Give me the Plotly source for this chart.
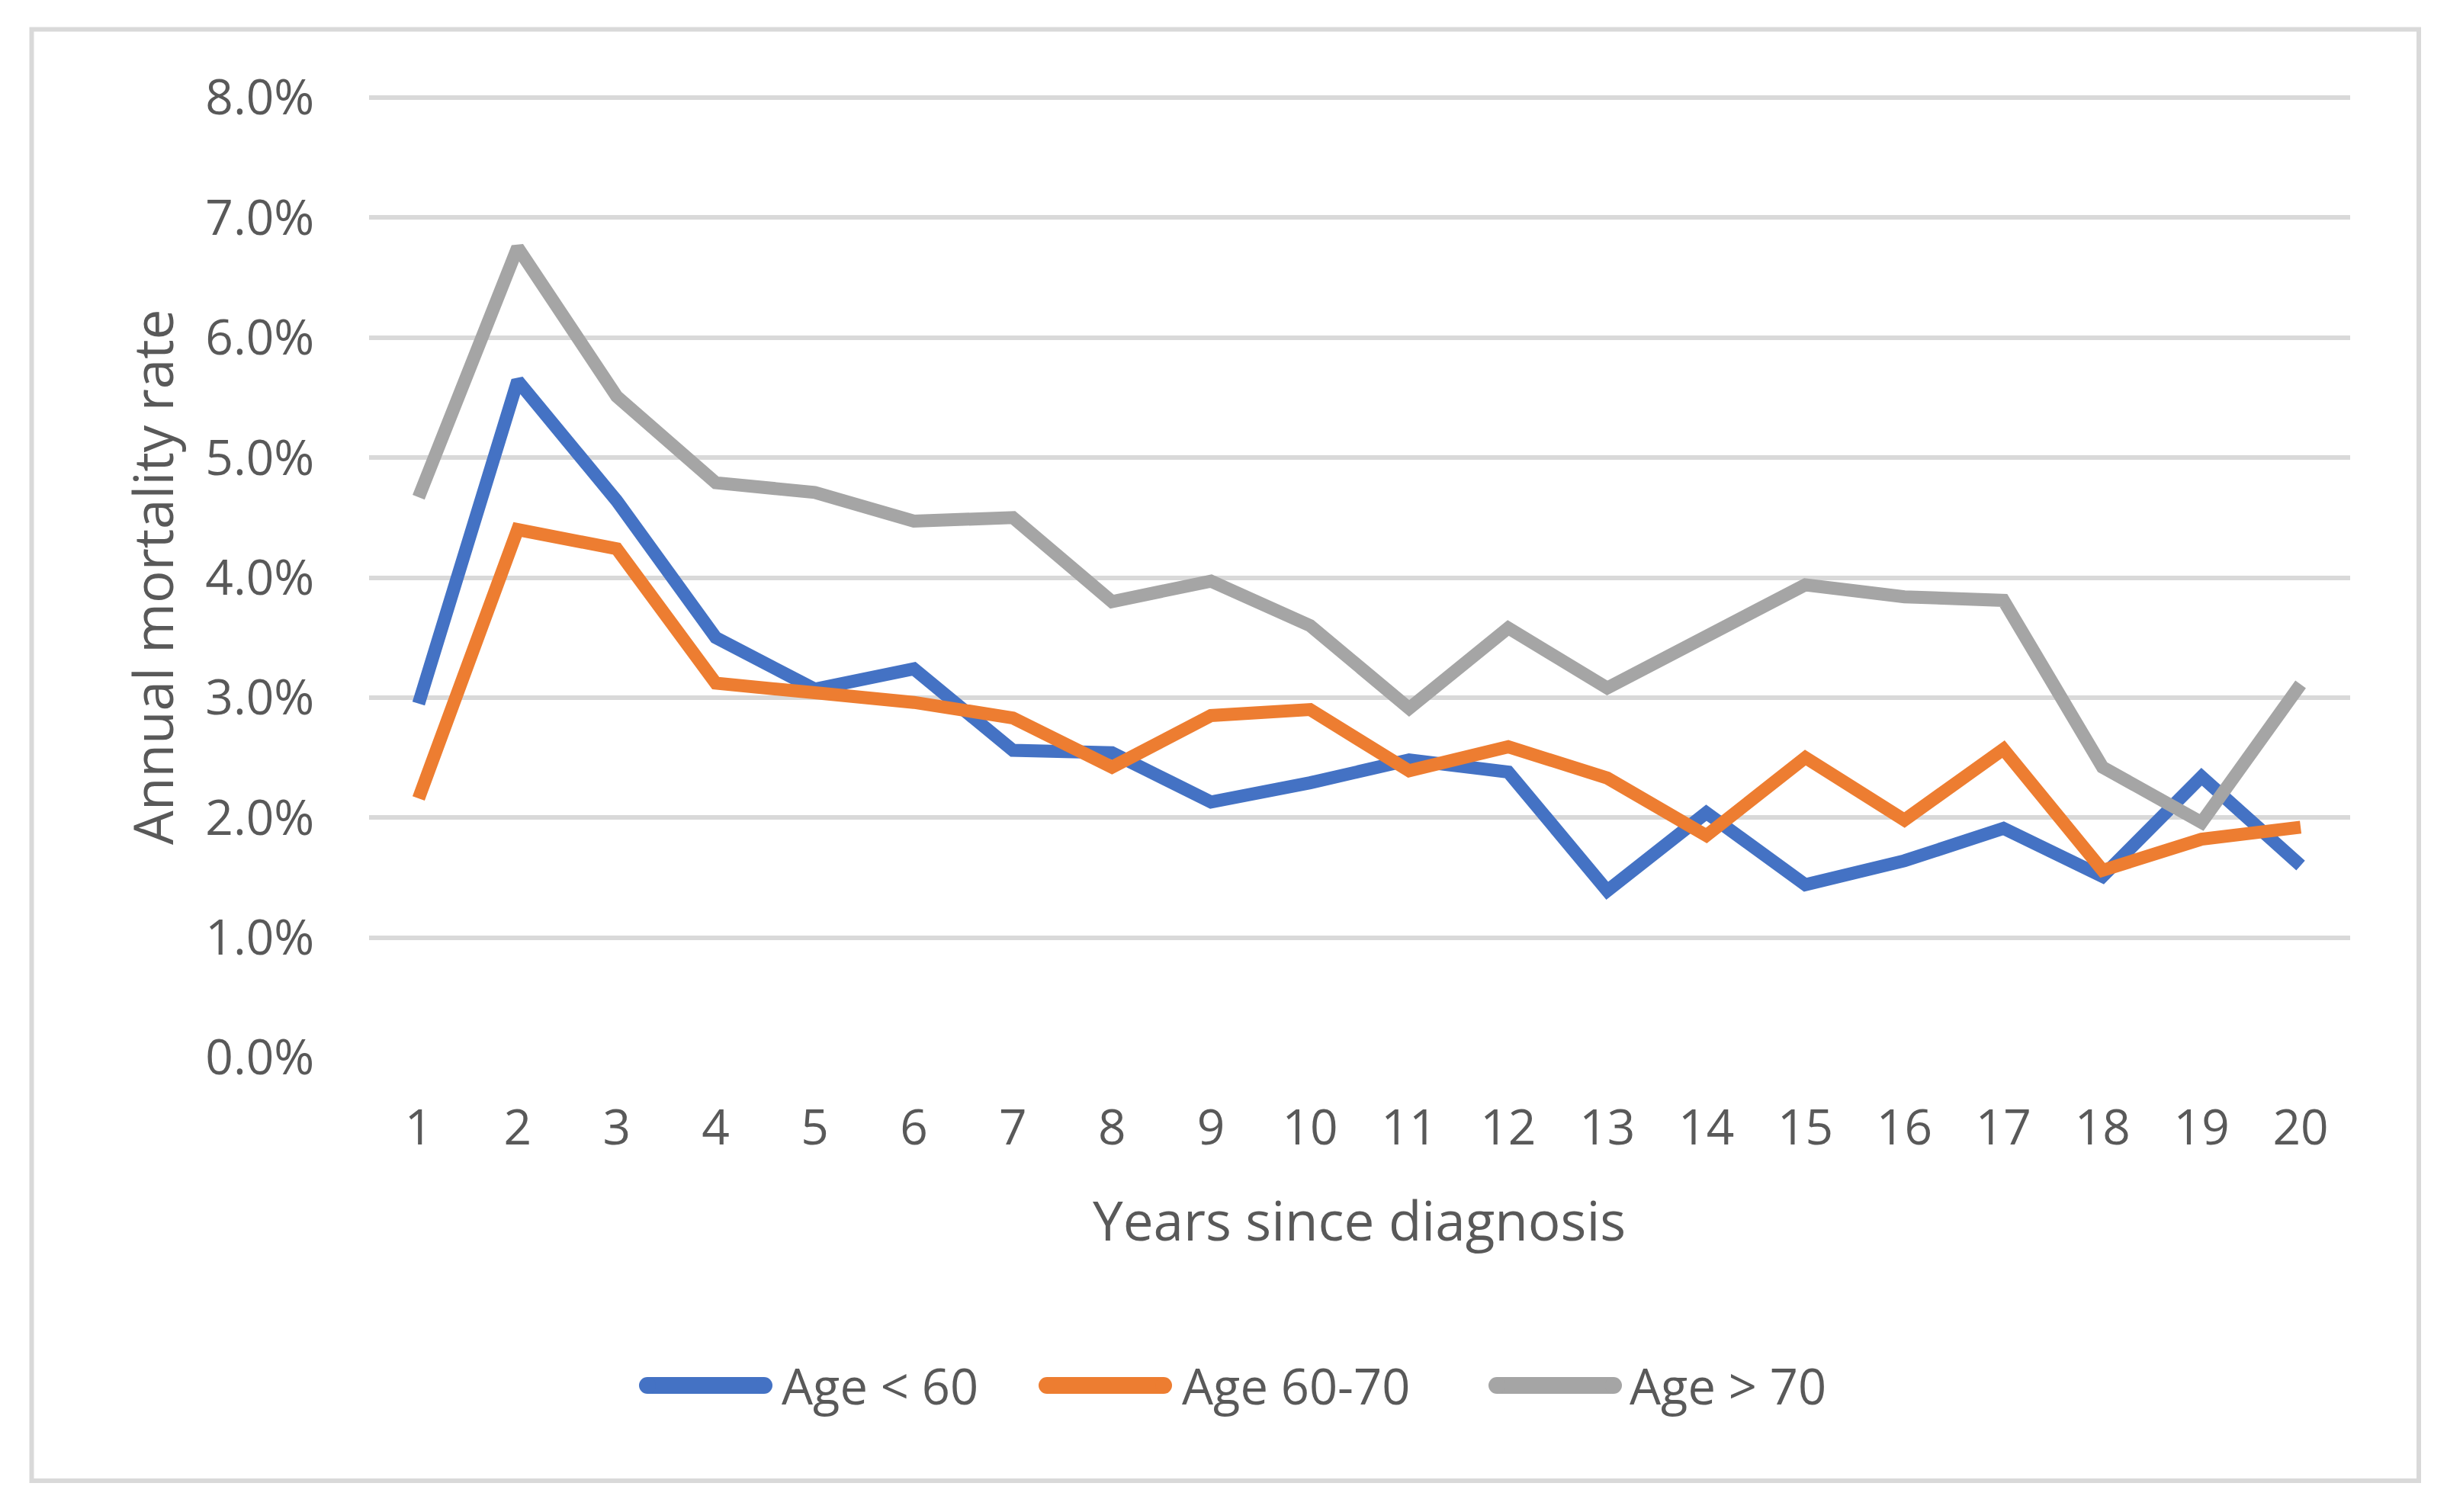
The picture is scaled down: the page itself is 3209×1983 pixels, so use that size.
import plotly.graph_objects as go

years = list(range(1, 21))
age_lt_60 = [2.95, 5.64, 4.64, 3.50, 3.07, 3.24, 2.56, 2.54, 2.13, 2.29,
             2.48, 2.38, 1.39, 2.04, 1.44, 1.64, 1.91, 1.51, 2.34, 1.60]
age_60_70 = [2.16, 4.40, 4.24, 3.12, 3.04, 2.96, 2.83, 2.42, 2.85, 2.90,
             2.39, 2.59, 2.33, 1.85, 2.50, 1.98, 2.57, 1.56, 1.82, 1.92]
age_gt_70 = [4.67, 6.75, 5.51, 4.79, 4.71, 4.47, 4.50, 3.80, 3.97, 3.60,
             2.91, 3.58, 3.08, 3.50, 3.94, 3.84, 3.81, 2.42, 1.96, 3.11]
series_names = ["Age < 60", "Age 60-70", "Age > 70"]
colors = ["#4472C4", "#ED7D31", "#A5A5A5"]
y_ticks = [0, 1, 2, 3, 4, 5, 6, 7, 8]
y_tick_labels = [f"{v:.1f}%" for v in y_ticks]

FONT = "Open Sans"
TXT = "#595959"
GRID = "#D9D9D9"

W, H = 3209, 1983
L, R, T, B = 484, 127, 128, 596
PW, PH = W - L - R, H - T - B


def px_x(p):
    return (p - L) / PW


def px_y(p):
    return (H - B - p) / PH


fig = go.Figure()
for name, vals, c in zip(series_names, [age_lt_60, age_60_70, age_gt_70], colors):
    fig.add_trace(go.Scatter(x=years, y=vals, mode="lines", name=name,
                             line=dict(color=c, width=17), showlegend=False))

# Manual legend (thick rounded bars + labels), positioned in pixels
legend_bars = [(838, 1013, 1023), (1362, 1537, 1548), (1952, 2127, 2135)]
legend_y = px_y(1817)
thick = 22
shapes = [
    dict(type="rect", xref="paper", yref="paper", x0=px_x(41.5), x1=px_x(3172),
         y0=px_y(1942), y1=px_y(38.5), line=dict(color=GRID, width=6),
         fillcolor="rgba(0,0,0,0)", layer="below"),
    # top gridline at the upper range edge (plotly skips it); paper ref so it is not clipped
    dict(type="line", xref="paper", yref="paper", x0=0, x1=1, y0=1, y1=1,
         line=dict(color=GRID, width=6), layer="below"),
]
annotations = [
    dict(text="Years since diagnosis", x=px_x(1782), y=px_y(1599), xref="paper", yref="paper",
         xanchor="center", yanchor="middle", showarrow=False,
         font=dict(size=71, color=TXT, family=FONT)),
    dict(text="Annual mortality rate", x=px_x(199), y=px_y(757), xref="paper", yref="paper",
         xanchor="center", yanchor="middle", showarrow=False, textangle=-90,
         font=dict(size=71, color=TXT, family=FONT)),
]
for (x0, x1, tx), name, c in zip(legend_bars, series_names, colors):
    r = thick / 2
    shapes.append(dict(type="line", xref="paper", yref="paper", x0=px_x(x0 + r), x1=px_x(x1 - r),
                       y0=legend_y, y1=legend_y, line=dict(color=c, width=thick)))
    for cx in (x0 + r, x1 - r):
        shapes.append(dict(type="circle", xref="paper", yref="paper",
                           xsizemode="pixel", ysizemode="pixel",
                           xanchor=px_x(cx), yanchor=legend_y,
                           x0=-r, x1=r, y0=-r, y1=r,
                           fillcolor=c, line=dict(width=0)))
    annotations.append(dict(text=name, x=px_x(tx), y=legend_y, xref="paper", yref="paper",
                            xanchor="left", yanchor="middle", showarrow=False,
                            font=dict(size=65, color=TXT, family=FONT)))

fig.update_layout(
    width=W, height=H,
    margin=dict(l=L, r=R, t=T, b=B),
    paper_bgcolor="white", plot_bgcolor="white",
    font=dict(family=FONT, color=TXT, size=64),
    showlegend=False,
    xaxis=dict(range=[0.5, 20.5], tickmode="array", tickvals=years,
               ticktext=[str(y) for y in years], showgrid=False, zeroline=False,
               showline=False, ticks="outside", ticklen=36, tickcolor="rgba(0,0,0,0)",
               tickfont=dict(size=64, color=TXT, family=FONT)),
    yaxis=dict(range=[0, 8], tickmode="array", tickvals=y_ticks, ticktext=y_tick_labels,
               showgrid=True, gridcolor=GRID, gridwidth=6, zeroline=False,
               showline=False, ticks="outside", ticklen=58, tickcolor="rgba(0,0,0,0)",
               tickfont=dict(size=64, color=TXT, family=FONT)),
    annotations=annotations,
    shapes=shapes,
)

fig.write_html("out.html", config={"displayModeBar": False},
               post_script="document.body.style.margin='0';document.body.style.overflow='hidden';")
